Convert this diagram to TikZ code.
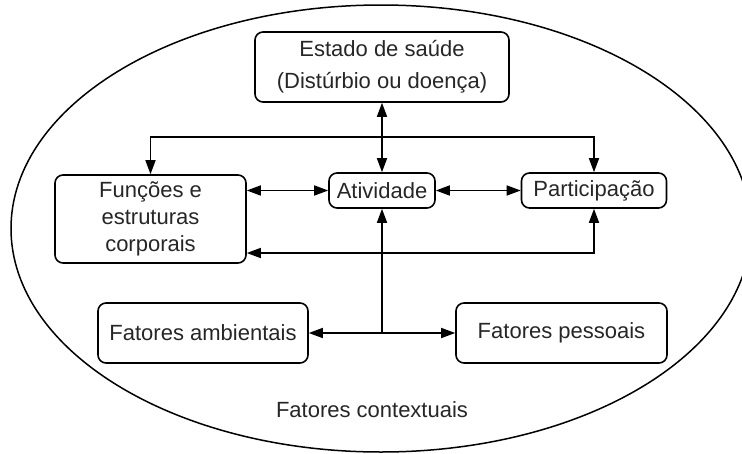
\documentclass[tikz,border=0pt]{standalone}
\usepackage{fontspec}
\setmainfont{Liberation Sans}
\usetikzlibrary{arrows.meta,calc}
\begin{document}
\begin{tikzpicture}[x=1pt,y=-1pt,
  box/.style={draw,line width=1.6pt,rounded corners=8pt,align=center,inner sep=0pt,
    font=\fontsize{22}{28}\selectfont,text=black!85},
  conn/.style={line width=1.6pt,{Triangle[length=14pt,width=10pt]}-{Triangle[length=14pt,width=10pt]}},
  oneway/.style={line width=1.6pt,-{Triangle[length=14pt,width=10pt]}}]
\useasboundingbox (0,0) rectangle (742,453);
\draw[line width=1.5pt] (381,228.5) ellipse [x radius=370pt, y radius=223.5pt];
\node[box,minimum width=254pt,minimum height=70pt,font=\fontsize{22}{32}\selectfont] (estado) at (382,67) {Estado de saúde\\(Distúrbio ou doença)};
\node[box,minimum width=191pt,minimum height=88pt,font=\fontsize{22}{27}\selectfont] (func) at (150.5,219) {Funções e\\estruturas\\corporais};
\node[box,minimum width=106pt,minimum height=35pt] (ativ) at (382,190.5) {Atividade};
\node[box,minimum width=145pt,minimum height=35pt] (part) at (594,190.5) {Participação};
\node[box,minimum width=210pt,minimum height=60pt] (amb) at (203,333) {Fatores ambientais};
\node[box,minimum width=211pt,minimum height=60pt] (pess) at (561.5,333) {Fatores pessoais};
\node[font=\fontsize{22}{28}\selectfont,text=black!85] (ctx) at (372,410) {Fatores contextuais};
\coordinate (top) at (382,137);
\coordinate (low) at (594,253);
\coordinate (mid) at (ativ.south |- amb.east);
\draw[conn] (estado.south) -- (ativ.north);
\draw[conn] (func.north) |- (top) -| (part.north);
\draw[conn] (func.east |- ativ.west) -- (ativ.west);
\draw[conn] (ativ.east) -- (part.west);
\draw[conn] (func.east |- low) -- (low) -- (part.south);
\draw[oneway] (mid) -- (ativ.south);
\draw[conn] (amb.east) -- (pess.west);
\end{tikzpicture}
\end{document}
